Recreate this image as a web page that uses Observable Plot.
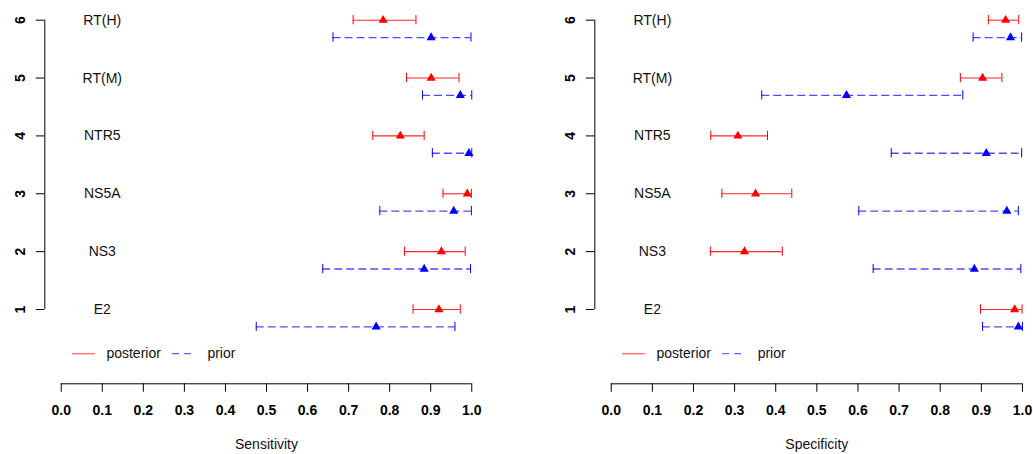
<!DOCTYPE html>
<html><head><meta charset="utf-8">
<script src="https://cdn.jsdelivr.net/npm/d3@7"></script>
<script src="https://cdn.jsdelivr.net/npm/@observablehq/plot@0.6"></script>
<style>
html,body{margin:0;padding:0;background:#fff;overflow:hidden}
#wrap{display:flex;width:1033px;height:454px;overflow:hidden}
#wrap svg{flex:none;max-width:none}
</style></head><body><div id="wrap"></div>
<script>
// ---- data ----
const categories = ["E2", "NS3", "NS5A", "NTR5", "RT(M)", "RT(H)"];
const yTicks = [1, 2, 3, 4, 5, 6];
const xTicks = [0, 0.1, 0.2, 0.3, 0.4, 0.5, 0.6, 0.7, 0.8, 0.9, 1.0];
const legendLabels = ["posterior", "prior"];
const axisTitles = ["Sensitivity", "Specificity"];

// Sensitivity
const sensPostMid = [0.920, 0.926, 0.989, 0.826, 0.901, 0.784];
const sensPostLo  = [0.857, 0.836, 0.930, 0.759, 0.841, 0.711];
const sensPostHi  = [0.972, 0.984, 0.999, 0.884, 0.969, 0.864];
const sensPriorMid = [0.767, 0.884, 0.956, 0.993, 0.972, 0.901];
const sensPriorLo  = [0.475, 0.637, 0.776, 0.904, 0.880, 0.662];
const sensPriorHi  = [0.959, 0.997, 0.999, 1.000, 1.000, 0.998];

// Specificity
const specPostMid = [0.981, 0.324, 0.351, 0.308, 0.903, 0.959];
const specPostLo  = [0.898, 0.241, 0.269, 0.242, 0.849, 0.917];
const specPostHi  = [0.999, 0.416, 0.439, 0.380, 0.950, 0.991];
const specPriorMid = [0.990, 0.883, 0.962, 0.912, 0.572, 0.971];
const specPriorLo  = [0.903, 0.637, 0.602, 0.681, 0.366, 0.880];
const specPriorHi  = [1.000, 0.996, 0.990, 0.998, 0.855, 0.998];

// ---- layout constants ----
const X_LO = -0.04, X_HI = 1.04;
const Y_LO = -0.284, Y_HI = 6.24;
const PRIOR_OFFSET = 0.3;
const CAP = 0.08;
const LEG_Y = 0.236;
const POST_COLOR = "#ff0000", PRIOR_COLOR = "#0000ff";
const DASH = "8,4";
const FONT = "'Liberation Sans', Arial, Helvetica, sans-serif";

function rows(mid, lo, hi, offset) {
  return categories.map((c, i) => ({cat: c, pos: i + 1 - offset, mid: mid[i], lo: lo[i], hi: hi[i]}));
}

function errorMarks(data, color, dash, lineOpacity, lineWidth) {
  return [
    Plot.ruleY(data, {y: "pos", x1: "lo", x2: "hi", stroke: color, strokeDasharray: dash,
                      strokeOpacity: lineOpacity, strokeWidth: lineWidth}),
    Plot.ruleX(data, {x: "lo", y1: d => d.pos - CAP, y2: d => d.pos + CAP, stroke: color}),
    Plot.ruleX(data, {x: "hi", y1: d => d.pos - CAP, y2: d => d.pos + CAP, stroke: color}),
    Plot.dot(data, {x: "mid", y: "pos", symbol: "triangle", r: 3.4, fill: color, stroke: "none"})
  ];
}

function panel({title, post, prior, width, marginLeft, marginRight}) {
  return Plot.plot({
    width, height: 454,
    marginLeft, marginRight, marginTop: 5.8, marginBottom: 70.7,
    style: {fontFamily: FONT, fontSize: "14px", color: "black", background: "white", overflow: "visible"},
    x: {domain: [X_LO, X_HI]},
    y: {domain: [Y_LO, Y_HI]},
    marks: [
      Plot.ruleX([X_LO], {y1: yTicks[0], y2: yTicks[yTicks.length - 1], stroke: "black"}),
      Plot.ruleY([Y_LO], {x1: xTicks[0], x2: xTicks[xTicks.length - 1], stroke: "black"}),
      Plot.axisX({ticks: xTicks, tickSize: 8.5, tickPadding: 12.5, tickFormat: d3.format(".1f"),
                  fontSize: 14, fontWeight: "bold", label: null}),
      Plot.axisY({ticks: yTicks, tickSize: 8.5, tickFormat: () => "", label: null}),
      Plot.text(yTicks, {y: d => d, text: d => String(d), frameAnchor: "left", dx: -24, rotate: -90,
                         fontSize: 14, fontWeight: "bold", lineAnchor: "middle", textAnchor: "middle"}),
      Plot.text(categories, {x: () => 0.1, y: (d, i) => i + 1, text: d => d, fontSize: 14,
                             lineAnchor: "middle", textAnchor: "middle", fill: "#111"}),
      ...errorMarks(prior, PRIOR_COLOR, DASH, 0.7, 1.3),
      ...errorMarks(post, POST_COLOR, null, 0.85, 1.1),
      // legend
      Plot.ruleY([LEG_Y], {x1: 0.027, x2: 0.083, stroke: POST_COLOR, strokeOpacity: 0.6, strokeWidth: 1.3}),
      Plot.ruleY([LEG_Y], {x1: 0.271, x2: 0.32, stroke: PRIOR_COLOR, strokeOpacity: 0.6, strokeWidth: 1.3,
                           strokeDasharray: "7,5"}),
      Plot.text(legendLabels, {x: (d, i) => [0.11, 0.356][i], y: () => LEG_Y, text: d => d,
                               textAnchor: "start", lineAnchor: "middle", fontSize: 14, fill: "#111"}),
      // axis title
      Plot.text([title], {frameAnchor: "bottom", dy: 60.7, text: d => d, fontSize: 14,
                          lineAnchor: "middle", textAnchor: "middle", fill: "#111"})
    ]
  });
}

const wrap = document.getElementById("wrap");
wrap.appendChild(panel({
  title: axisTitles[0],
  post: rows(sensPostMid, sensPostLo, sensPostHi, 0),
  prior: rows(sensPriorMid, sensPriorLo, sensPriorHi, PRIOR_OFFSET),
  width: 517, marginLeft: 44.3, marginRight: 29.3
}));
wrap.appendChild(panel({
  title: axisTitles[1],
  post: rows(specPostMid, specPostLo, specPostHi, 0),
  prior: rows(specPriorMid, specPriorLo, specPriorHi, PRIOR_OFFSET),
  width: 530, marginLeft: 77.3, marginRight: 8.6
}));
</script></body></html>
